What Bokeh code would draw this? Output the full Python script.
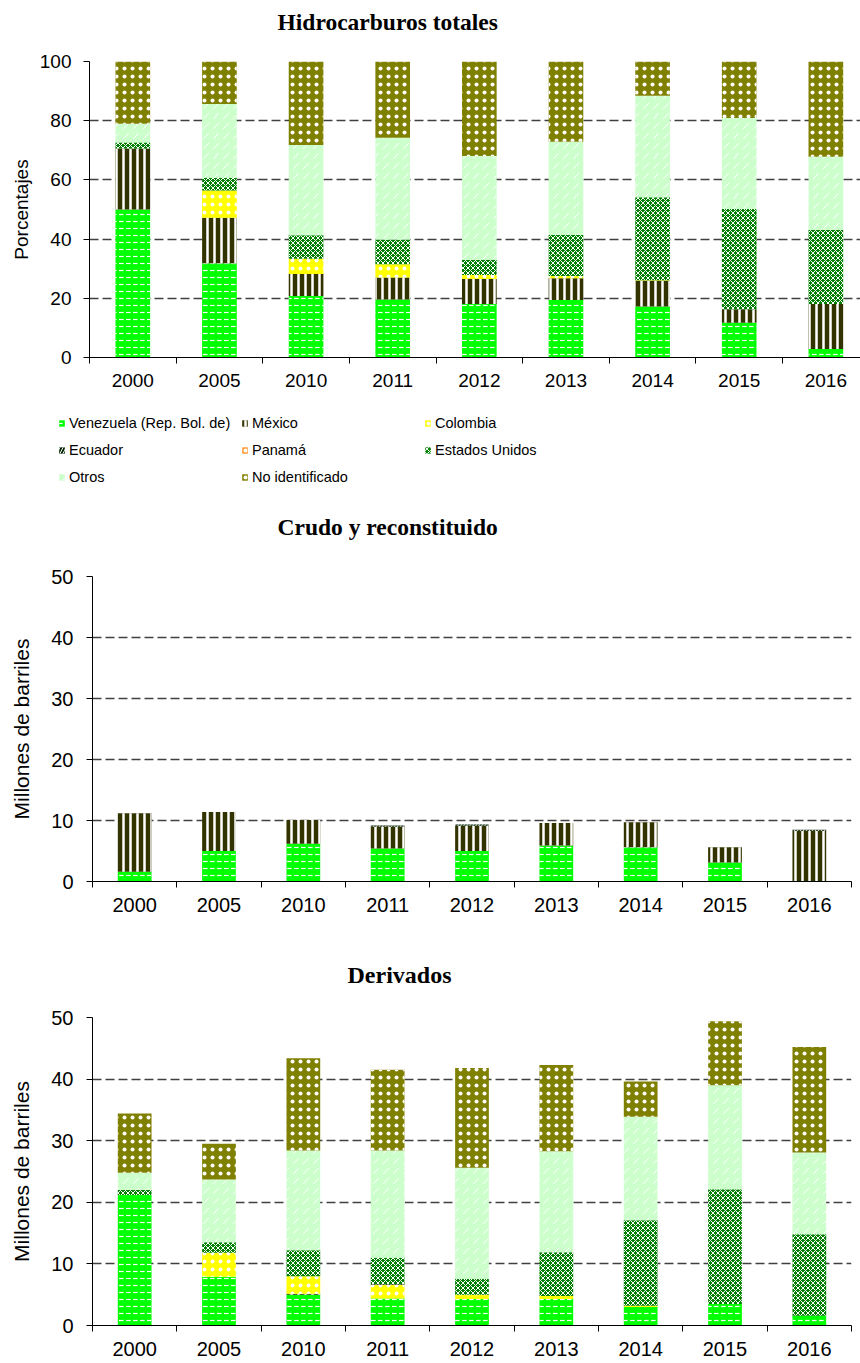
from bokeh.plotting import figure
from bokeh.models import (Range1d, FixedTicker, SingleIntervalTicker, Legend,
                          LegendItem, ColumnDataSource, Title)
from bokeh.layouts import column
from bokeh.embed import file_html
from bokeh.resources import INLINE

years = ["2000", "2005", "2010", "2011", "2012", "2013", "2014", "2015", "2016"]
series = ["Venezuela (Rep. Bol. de)", "México", "Colombia", "Ecuador", "Panamá",
          "Estados Unidos", "Otros", "No identificado"]

# Hidrocarburos totales (porcentajes)
tot_venezuela = [50.0, 31.8, 20.8, 19.6, 18.1, 19.4, 17.2, 11.7, 2.9]
tot_mexico = [20.6, 15.4, 7.4, 7.4, 8.4, 7.4, 8.7, 4.6, 15.2]
tot_colombia = [0, 9.2, 5.2, 4.5, 1.4, 0.7, 0.2, 0, 0]
tot_ecuador = [0, 0, 0, 0, 0, 0, 0, 0, 0]
tot_panama = [0, 0, 0, 0, 0, 0, 0, 0, 0]
tot_eeuu = [2.0, 4.3, 7.9, 8.3, 5.0, 13.9, 28.0, 33.9, 25.0]
tot_otros = [6.4, 24.9, 30.5, 34.4, 35.2, 31.5, 34.3, 30.7, 24.7]
tot_noid = [21.0, 14.4, 28.2, 25.8, 31.9, 27.1, 11.6, 19.1, 32.2]

# Crudo y reconstituido (millones de barriles)
cru_venezuela = [1.6, 5.0, 6.2, 5.4, 5.0, 5.9, 5.6, 3.1, 0]
cru_mexico = [9.6, 6.4, 3.9, 3.6, 4.15, 3.7, 4.1, 2.5, 8.3]
cru_colombia = [0, 0, 0, 0, 0, 0, 0, 0, 0]
cru_ecuador = [0, 0, 0, 0.2, 0.2, 0, 0, 0, 0.2]
cru_panama = [0, 0, 0, 0, 0, 0, 0, 0, 0]
cru_eeuu = [0, 0, 0, 0, 0, 0, 0, 0, 0]
cru_otros = [0, 0, 0, 0, 0, 0, 0, 0, 0]
cru_noid = [0, 0, 0, 0, 0, 0, 0, 0, 0]

# Derivados (millones de barriles)
der_venezuela = [21.2, 7.9, 5.0, 4.4, 4.3, 4.3, 3.0, 3.5, 1.6]
der_mexico = [0, 0, 0.15, 0, 0, 0, 0, 0, 0]
der_colombia = [0, 3.9, 2.85, 2.2, 0.7, 0.5, 0.2, 0, 0]
der_ecuador = [0, 0, 0, 0.15, 0, 0, 0, 0, 0]
der_panama = [0, 0, 0, 0, 0, 0, 0, 0, 0]
der_eeuu = [0.8, 1.7, 4.2, 4.25, 2.6, 7.1, 13.9, 18.6, 13.2]
der_otros = [2.8, 10.2, 16.2, 17.4, 18.0, 16.4, 16.8, 16.9, 13.3]
der_noid = [9.6, 5.8, 15.0, 13.1, 16.2, 14.0, 5.7, 10.4, 17.1]

keys = ["ven", "mex", "col", "ecu", "pan", "usa", "otr", "noid"]
fills = ["#00FF00", "#333300", "#FFFF00", "#002200", "#FF9933", "#008000", "#CCFFCC", "#808000"]
hatches = ["horizontal_dash", "vertical_line", "dot", "right_diagonal_line", "dot",
           "diagonal_cross", "right_diagonal_dash", "dot"]
hcolors = ["white"] * 8
hscales = [7, 7, 8, 6, 8, 5, 10, 8]
hweights = [1.2, 2.5, 1.1, 1.0, 1.1, 1.0, 1.0, 0.9]

SANS = "Liberation Sans"
SERIF = "Liberation Serif"
W = 860


def no_align(p):
    if hasattr(p, "frame_align"):
        p.frame_align = False


def stack(p, src):
    return p.vbar_stack(keys, x="x", width=0.4, source=src, fill_color=fills,
                        hatch_pattern=hatches, hatch_color=hcolors,
                        hatch_scale=hscales, hatch_weight=hweights,
                        line_color=None)


def source(data):
    return ColumnDataSource(dict(x=[i + 0.5 for i in range(len(years))],
                                 **{k: v for k, v in zip(keys, data)}))


def make_fig(title, data, ymax, yint, ylabel, height, frame_top, frame_h,
             left, right, xend, title_x, spacer, title_font,
             tick_font, label_font, tick_standoff, label_standoff, x_standoff):
    src = source(data)
    p = figure(width=W, height=height, x_range=Range1d(0, xend),
               y_range=Range1d(0, ymax), output_backend="svg",
               toolbar_location=None, min_border_left=left,
               min_border_right=right, min_border_top=frame_top,
               min_border_bottom=height - frame_top - frame_h, title=None)
    no_align(p)
    stack(p, src)
    p.add_layout(Title(text=" ", text_font_size="2px", standoff=spacer), "above")
    p.add_layout(Title(text=title, text_font=SERIF, text_font_style="bold",
                       text_font_size=title_font, text_color="black", align="left",
                       offset=title_x - left, standoff=0), "above")
    p.outline_line_color = None
    p.xgrid.grid_line_color = None
    p.ygrid.grid_line_color = "#404040"
    p.ygrid.grid_line_width = 1.5
    p.ygrid.grid_line_dash = "9 4"

    p.xaxis.ticker = FixedTicker(ticks=[i + 0.5 for i in range(len(years))],
                                 minor_ticks=list(range(len(years) + 1)))
    p.xaxis.major_label_overrides = {i + 0.5: y for i, y in enumerate(years)}
    p.xaxis.major_tick_line_color = None
    p.xaxis.minor_tick_line_color = "black"
    p.xaxis.minor_tick_out = 6
    p.xaxis.minor_tick_in = 0
    p.xaxis.axis_line_color = "black"
    p.xaxis.major_label_text_font = SANS
    p.xaxis.major_label_text_font_size = tick_font
    p.xaxis.major_label_text_color = "black"
    p.xaxis.major_label_standoff = x_standoff

    p.yaxis.ticker = SingleIntervalTicker(interval=yint, num_minor_ticks=0)
    p.yaxis.minor_tick_line_color = None
    p.yaxis.major_tick_out = 6
    p.yaxis.major_tick_in = 0
    p.yaxis.major_tick_line_color = "black"
    p.yaxis.axis_line_color = "black"
    p.yaxis.major_label_text_font = SANS
    p.yaxis.major_label_text_font_size = tick_font
    p.yaxis.major_label_text_color = "black"
    p.yaxis.major_label_standoff = tick_standoff
    p.yaxis.axis_label = ylabel
    p.yaxis.axis_label_text_font = SANS
    p.yaxis.axis_label_text_font_style = "normal"
    p.yaxis.axis_label_text_font_size = label_font
    p.yaxis.axis_label_text_color = "black"
    p.yaxis.axis_label_standoff = label_standoff
    return p


tot_data = [tot_venezuela, tot_mexico, tot_colombia, tot_ecuador,
            tot_panama, tot_eeuu, tot_otros, tot_noid]
p1 = make_fig("Hidrocarburos totales", tot_data,
              100, 20, "Porcentajes", 400, 61, 296, 89, 0, 8.9, 277, 23, "23.5px",
              "19px", "19px", 12, 5, 10)

# legend strip: its renderers hold the same series, kept outside its view
pl = figure(width=W, height=100, x_range=Range1d(-20, -19), y_range=Range1d(-20, -19),
            x_axis_type=None, y_axis_type=None, output_backend="svg",
            toolbar_location=None, min_border=0)
no_align(pl)
pl.outline_line_color = None
pl.grid.grid_line_color = None
rl = stack(pl, source(tot_data))
legend = Legend(items=[LegendItem(label=s, renderers=[r]) for s, r in zip(series, rl)],
                location=(58, 11), orientation="horizontal", ncols=3,
                glyph_width=7, glyph_height=8, label_standoff=4,
                label_width=169, label_height=24, spacing=3, padding=0,
                margin=0, border_line_color=None, background_fill_alpha=0,
                label_text_font=SANS, label_text_font_size="14.5px",
                label_text_color="black")
pl.add_layout(legend, "center")

p2 = make_fig("Crudo y reconstituido",
              [cru_venezuela, cru_mexico, cru_colombia, cru_ecuador,
               cru_panama, cru_eeuu, cru_otros, cru_noid],
              50, 10, "Millones de barriles", 445, 76, 305, 92, 9, 9, 277, 33, "23.5px",
              "20px", "21px", 13, 15, 10)

p3 = make_fig("Derivados",
              [der_venezuela, der_mexico, der_colombia, der_ecuador,
               der_panama, der_eeuu, der_otros, der_noid],
              50, 10, "Millones de barriles", 418, 72, 308, 92, 9, 9, 347, 26, "24px",
              "20px", "21px", 13, 15, 10)

layout = column(p1, pl, p2, p3, spacing=0)
open("out.html", "w").write(file_html(layout, INLINE))
